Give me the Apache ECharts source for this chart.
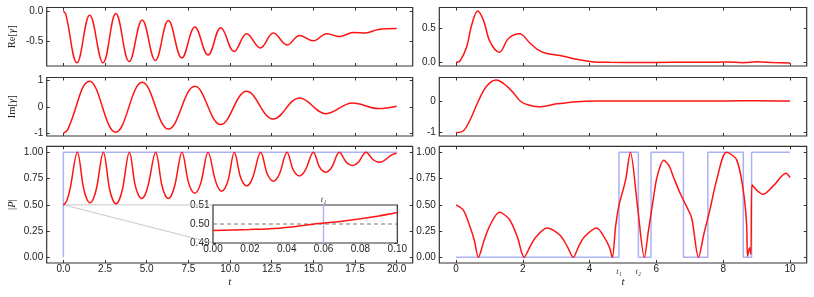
<!DOCTYPE html>
<html>
<head>
<meta charset="utf-8">
<script src="https://cdn.jsdelivr.net/npm/echarts@6.0.0/dist/echarts.min.js"></script>
<style>
html,body{margin:0;padding:0;background:#fff;}
#chart{width:814px;height:297px;}
</style>
</head>
<body>
<div id="chart"></div>
<script>
// ================= DATA =================
// Left column (t from 0 to 20)
const leftReT = [0, 0.15, 0.82, 1.58, 2.38, 3.15, 3.95, 4.73, 5.52, 6.30, 7.11, 7.89, 8.68, 9.45, 10.25, 11.0, 11.82, 12.6, 13.43, 14.18, 15.0, 15.8, 16.58, 17.4, 18.12, 18.9, 20];
const leftReV = [0, -0.06, -0.87, -0.07, -0.87, -0.04, -0.85, -0.15, -0.83, -0.16, -0.79, -0.27, -0.74, -0.28, -0.68, -0.38, -0.62, -0.37, -0.57, -0.41, -0.50, -0.38, -0.43, -0.36, -0.37, -0.31, -0.295];

const leftImT = [0, 0.25, 1.57, 3.14, 4.73, 6.31, 7.89, 9.44, 11.0, 12.6, 14.17, 15.76, 17.35, 18.92, 20];
const leftImV = [-0.99, -0.87, 0.96, -0.96, 0.92, -0.84, 0.77, -0.67, 0.58, -0.46, 0.33, -0.26, 0.14, -0.07, 0.02];

const leftPT = [0, 0.2, 0.4, 0.84, 1.2, 1.4, 1.6, 1.8, 2.0, 2.40, 2.76, 2.96, 3.16, 3.36, 3.56, 3.96, 4.30, 4.50, 4.70, 4.90, 5.10, 5.54, 5.90, 6.10, 6.30, 6.50, 6.70, 7.12, 7.48, 7.68, 7.88, 8.08, 8.28, 8.68, 9.10, 9.30, 9.50, 9.70, 9.90, 10.26, 10.60, 10.80, 11.00, 11.20, 11.40, 11.84, 12.20, 12.40, 12.60, 12.80, 13.00, 13.42, 13.76, 13.96, 14.16, 14.36, 14.56, 15.00, 15.34, 15.54, 15.74, 15.94, 16.14, 16.56, 16.94, 17.14, 17.34, 17.54, 17.74, 18.16, 18.56, 18.76, 18.96, 19.16, 19.36, 19.7, 20];
const leftPV = [0.497, 0.537, 0.649, 1.0, 0.665, 0.558, 0.52, 0.558, 0.665, 1.0, 0.658, 0.549, 0.51, 0.549, 0.658, 1.0, 0.693, 0.595, 0.56, 0.595, 0.693, 1.0, 0.693, 0.595, 0.56, 0.595, 0.693, 1.0, 0.728, 0.641, 0.61, 0.641, 0.728, 1.0, 0.742, 0.659, 0.63, 0.659, 0.742, 1.0, 0.777, 0.705, 0.68, 0.705, 0.777, 1.0, 0.808, 0.747, 0.725, 0.747, 0.808, 1.0, 0.843, 0.793, 0.775, 0.793, 0.843, 1.0, 0.868, 0.825, 0.81, 0.825, 0.868, 1.0, 0.913, 0.885, 0.875, 0.885, 0.913, 1.0, 0.934, 0.913, 0.905, 0.913, 0.934, 0.975, 0.99];

const leftStepT = [0, 0, 20];
const leftStepV = [0, 1, 1];

// Inset (zoom of the left |P| near t = 0)
const insetT = [0, 0.02, 0.036, 0.0545, 0.072, 0.09, 0.1];
const insetV = [0.4966, 0.4971, 0.4978, 0.4999, 0.5017, 0.5042, 0.506];
const insetRefLevel = 0.5;
const insetT1 = 0.055;
const insetZoomPoint = [0, 0.5];

// Right column (t from 0 to 10)
const rightReT = [0, 0.12, 0.32, 0.47, 0.65, 0.82, 1.02, 1.3, 1.57, 1.9, 2.22, 2.47, 2.72, 3.21, 3.61, 4.06, 4.6, 5.5, 6.5, 7.5, 8.1, 8.6, 9.0, 9.5, 10];
const rightReV = [0, 0.02, 0.23, 0.55, 0.754, 0.62, 0.30, 0.147, 0.35, 0.42, 0.28, 0.18, 0.13, 0.09, 0.044, 0.01, 0.0, -0.002, 0.0, 0.0, 0.005, -0.005, 0.008, -0.003, -0.01];

const rightImT = [0, 0.22, 0.42, 0.67, 0.92, 1.2, 1.52, 1.77, 1.92, 2.15, 2.47, 3.02, 3.61, 4.2, 5.0, 6.0, 7.0, 8.0, 9.0, 10];
const rightImV = [-1.0, -0.94, -0.6, 0.0, 0.47, 0.66, 0.47, 0.19, 0.0, -0.12, -0.18, -0.09, -0.02, 0.0, 0.0, 0.0, 0.0, 0.0, 0.01, 0.0];

const rightPT = [0, 0.22, 0.42, 0.55, 0.67, 0.84, 1.01, 1.3, 1.6, 1.84, 2.04, 2.22, 2.4, 2.72, 3.1, 3.33, 3.51, 3.68, 3.86, 4.21, 4.46, 4.6, 4.68, 4.78, 4.88, 4.95, 5.08, 5.22, 5.43, 5.64, 5.76, 5.9, 6.02, 6.22, 6.38, 6.51, 6.71, 6.91, 7.06, 7.26, 7.42, 7.6, 7.8, 8.1, 8.4, 8.6, 8.7, 8.73, 8.79, 8.83, 8.86, 9.0, 9.19, 9.5, 9.88, 10];
const rightPV = [0.50, 0.45, 0.29, 0.16, 0, 0.16, 0.30, 0.43, 0.36, 0.19, 0, 0.105, 0.195, 0.28, 0.215, 0.105, 0, 0.11, 0.20, 0.28, 0.18, 0.09, 0, 0.30, 0.50, 0.58, 0.74, 1.0, 0.5, 0, 0.25, 0.54, 0.765, 0.924, 0.87, 0.765, 0.61, 0.48, 0.37, 0, 0.22, 0.45, 0.73, 1.0, 0.93, 0.64, 0.32, 0.01, 0.09, 0.03, 0.69, 0.64, 0.60, 0.68, 0.80, 0.76];

const rightStepT = [0, 4.88, 5.46, 5.84, 6.81, 7.54, 8.60, 8.85, 10];
const rightStepV = [0, 1, 0, 1, 0, 1, 0, 1, 1];
const rightMarkT = [4.88, 5.46];
const rightMarkLabels = ['{t|t₁}', '{t|t₂}'];

// Tick values and labels
const leftXTicks = [0, 2.5, 5, 7.5, 10, 12.5, 15, 17.5, 20];
const leftXLabels = ['0.0', '2.5', '5.0', '7.5', '10.0', '12.5', '15.0', '17.5', '20.0'];
const rightXTicks = [0, 2, 4, 6, 8, 10];
const rightXLabels = ['0', '2', '4', '6', '8', '10'];
const reLTicks = [0, -0.5];
const reLLabels = ['0.0', '-0.5'];
const imLTicks = [1, 0, -1];
const imLLabels = ['1', '0', '-1'];
const pTicks = [0, 0.25, 0.5, 0.75, 1];
const pLabels = ['0.00', '0.25', '0.50', '0.75', '1.00'];
const reRTicks = [0, 0.5];
const reRLabels = ['0.0', '0.5'];
const imRTicks = [0, -1];
const imRLabels = ['0', '-1'];
const insetXTicks = [0, 0.02, 0.04, 0.06, 0.08, 0.1];
const insetXLabels = ['0.00', '0.02', '0.04', '0.06', '0.08', '0.10'];
const insetYTicks = [0.49, 0.5, 0.51];
const insetYLabels = ['0.49', '0.50', '0.51'];

// ================= LAYOUT / STYLE =================
const SANS = 'Liberation Sans';
const SERIF = 'Liberation Serif';
const INK = '#222';
const FRAME = '#333';
const RED = '#ff1414';
const BLUE = '#aab2f6';

const leftXRange = [-1, 20.96];
const rightXRange = [-0.5, 10.5];
const insetXRange = [0, 0.1];
const insetYRange = [0.49, 0.51];

const zip = (a, b) => a.map((t, i) => [t, b[i]]);
function lookup(vals, labels) {
  return function (v) {
    for (let i = 0; i < vals.length; i++) if (Math.abs(vals[i] - v) < 1e-9) return labels[i];
    return '';
  };
}

const gridBase = {show: true, borderColor: FRAME, borderWidth: 1.2, containLabel: false};
const grids = [
  Object.assign({left: 46.7, top: 7.5, width: 366, height: 58.5}, gridBase),
  Object.assign({left: 46.7, top: 77.5, width: 366, height: 58.5}, gridBase),
  Object.assign({left: 46.7, top: 146.3, width: 366, height: 116.7}, gridBase),
  Object.assign({left: 439.3, top: 7.5, width: 367.4, height: 58.5}, gridBase),
  Object.assign({left: 439.3, top: 77.5, width: 367.4, height: 58.5}, gridBase),
  Object.assign({left: 439.3, top: 146.3, width: 367.4, height: 116.7}, gridBase),
  Object.assign({}, gridBase, {left: 213, top: 205, width: 184.3, height: 38, backgroundColor: '#fff', z: 5})
];

const xAxes = [], yAxes = [];
const tickStyle = {show: true, inside: true, length: 3, lineStyle: {color: FRAME, width: 1}};
const hiddenLine = {show: false, onZero: false};

function addX(gi, range, ticks, labels, opts) {
  opts = opts || {};
  const i = xAxes.length;
  let labelCfg = {show: false};
  if (labels) {
    const vals = ticks.concat(opts.extraVals || []);
    const labs = labels.concat(opts.extraLabels || []);
    labelCfg = {show: true, customValues: vals, formatter: lookup(vals, labs), margin: 1.5,
      fontSize: 10, color: INK, fontFamily: SANS,
      rich: {t: {fontFamily: SERIF, fontStyle: 'italic', fontSize: 9, color: '#444', padding: [3, 0, 0, 0]}}};
  }
  xAxes.push({
    type: 'value', gridIndex: gi, position: 'bottom', min: range[0], max: range[1],
    axisLine: hiddenLine, splitLine: {show: false},
    axisTick: Object.assign({customValues: ticks}, tickStyle),
    axisLabel: labelCfg,
    name: opts.name || '', nameLocation: 'middle', nameGap: opts.nameGap || 8, nameMoveOverlap: false,
    nameTextStyle: {fontFamily: SERIF, fontStyle: 'italic', fontSize: 11, color: INK}
  });
  xAxes.push({
    type: 'value', gridIndex: gi, position: 'top', min: range[0], max: range[1],
    axisLine: hiddenLine, splitLine: {show: false},
    axisTick: Object.assign({customValues: ticks}, tickStyle),
    axisLabel: {show: false}
  });
  return i;
}
function addY(gi, range, ticks, labels, name) {
  const i = yAxes.length;
  yAxes.push({
    type: 'value', gridIndex: gi, position: 'left', min: range[0], max: range[1],
    axisLine: hiddenLine, splitLine: {show: false},
    axisTick: Object.assign({customValues: ticks}, tickStyle),
    axisLabel: {show: true, customValues: ticks, formatter: lookup(ticks, labels), margin: 3.5,
      fontSize: 10, color: INK, fontFamily: SANS},
    name: name || '', nameLocation: 'middle', nameGap: 28.5, nameRotate: 90, nameMoveOverlap: false,
    nameTextStyle: {fontFamily: SERIF, fontSize: 10.5, color: INK,
      rich: {i: {fontFamily: SERIF, fontStyle: 'italic', fontSize: 10.5, color: INK}}}
  });
  yAxes.push({
    type: 'value', gridIndex: gi, position: 'right', min: range[0], max: range[1],
    axisLine: hiddenLine, splitLine: {show: false},
    axisTick: Object.assign({customValues: ticks}, tickStyle),
    axisLabel: {show: false}
  });
  return i;
}

const xL0 = addX(0, leftXRange, leftXTicks, null);
const yL0 = addY(0, [-0.924, 0.059], reLTicks, reLLabels, 'Re[{i|γ}]');
const xL1 = addX(1, leftXRange, leftXTicks, null);
const yL1 = addY(1, [-1.1, 1.1], imLTicks, imLLabels, 'Im[{i|γ}]');
const xL2 = addX(2, leftXRange, leftXTicks, leftXLabels, {name: 't', nameGap: 14});
const yL2 = addY(2, [-0.054, 1.057], pTicks, pLabels, '|{i|P}|');
const xR0 = addX(3, rightXRange, rightXTicks, null);
const yR0 = addY(3, [-0.054, 0.806], reRTicks, reRLabels, '');
const xR1 = addX(4, rightXRange, rightXTicks, null);
const yR1 = addY(4, [-1.104, 0.741], imRTicks, imRLabels, '');
const xR2 = addX(5, rightXRange, rightXTicks, rightXLabels,
  {name: 't', nameGap: 14, extraVals: rightMarkT, extraLabels: rightMarkLabels});
const yR2 = addY(5, [-0.054, 1.057], pTicks, pLabels, '');
const xIn = addX(6, insetXRange, insetXTicks, insetXLabels);
const yIn = addY(6, insetYRange, insetYTicks, insetYLabels, '');

function line(xi, yi, data, color, width, smooth, extra) {
  return Object.assign({
    type: 'line', xAxisIndex: xi, yAxisIndex: yi, data: data,
    showSymbol: false, symbol: 'none', smooth: smooth, silent: true,
    lineStyle: {color: color, width: width}, clip: true
  }, extra || {});
}

const series = [
  line(xL0, yL0, zip(leftReT, leftReV), RED, 1.5, 0.4),
  line(xL1, yL1, zip(leftImT, leftImV), RED, 1.5, 0.4),
  line(xL2, yL2, zip(leftStepT, leftStepV), BLUE, 1.5, false),
  line(xL2, yL2, zip(leftPT, leftPV), RED, 1.5, 0.35),
  line(xR0, yR0, zip(rightReT, rightReV), RED, 1.5, 0.35),
  line(xR1, yR1, zip(rightImT, rightImV), RED, 1.5, 0.35),
  line(xR2, yR2, zip(rightStepT, rightStepV), BLUE, 1.5, false, {step: 'end'}),
  line(xR2, yR2, zip(rightPT, rightPV), RED, 1.5, 0.3),
  line(xIn, yIn, zip(insetXRange, [insetRefLevel, insetRefLevel]), '#777', 1, false, {
    z: 6,
    lineStyle: {color: '#777', width: 1, type: [4, 3]},
    markLine: {
      silent: true, symbol: 'none', animation: false,
      data: [{xAxis: insetT1}],
      lineStyle: {color: BLUE, width: 1.4, type: 'solid'},
      label: {show: true, position: 'end', distance: 1, formatter: 't₁',
        fontFamily: SERIF, fontStyle: 'italic', fontSize: 9, color: '#444'}
    }
  }),
  line(xIn, yIn, zip(insetT, insetV), RED, 1.5, 0.3, {z: 7})
];

const chart = echarts.init(document.getElementById('chart'), null, {renderer: 'canvas'});
chart.setOption({
  animation: false,
  backgroundColor: '#fff',
  grid: grids,
  xAxis: xAxes,
  yAxis: yAxes,
  series: series
});

// Zoom connector lines from the zoomed point to the inset corners
const p0 = chart.convertToPixel({xAxisIndex: xL2, yAxisIndex: yL2}, insetZoomPoint);
const pTop = chart.convertToPixel({xAxisIndex: xIn, yAxisIndex: yIn}, [insetXRange[0], insetYRange[1]]);
const pBot = chart.convertToPixel({xAxisIndex: xIn, yAxisIndex: yIn}, [insetXRange[0], insetYRange[0]]);
chart.setOption({
  graphic: [
    {type: 'line', z: 1, silent: true, shape: {x1: p0[0], y1: p0[1], x2: pTop[0], y2: pTop[1]},
      style: {stroke: '#c8c8c8', lineWidth: 1}},
    {type: 'line', z: 1, silent: true, shape: {x1: p0[0], y1: p0[1], x2: pBot[0], y2: pBot[1]},
      style: {stroke: '#c8c8c8', lineWidth: 1}}
  ]
});
</script>
</body>
</html>
